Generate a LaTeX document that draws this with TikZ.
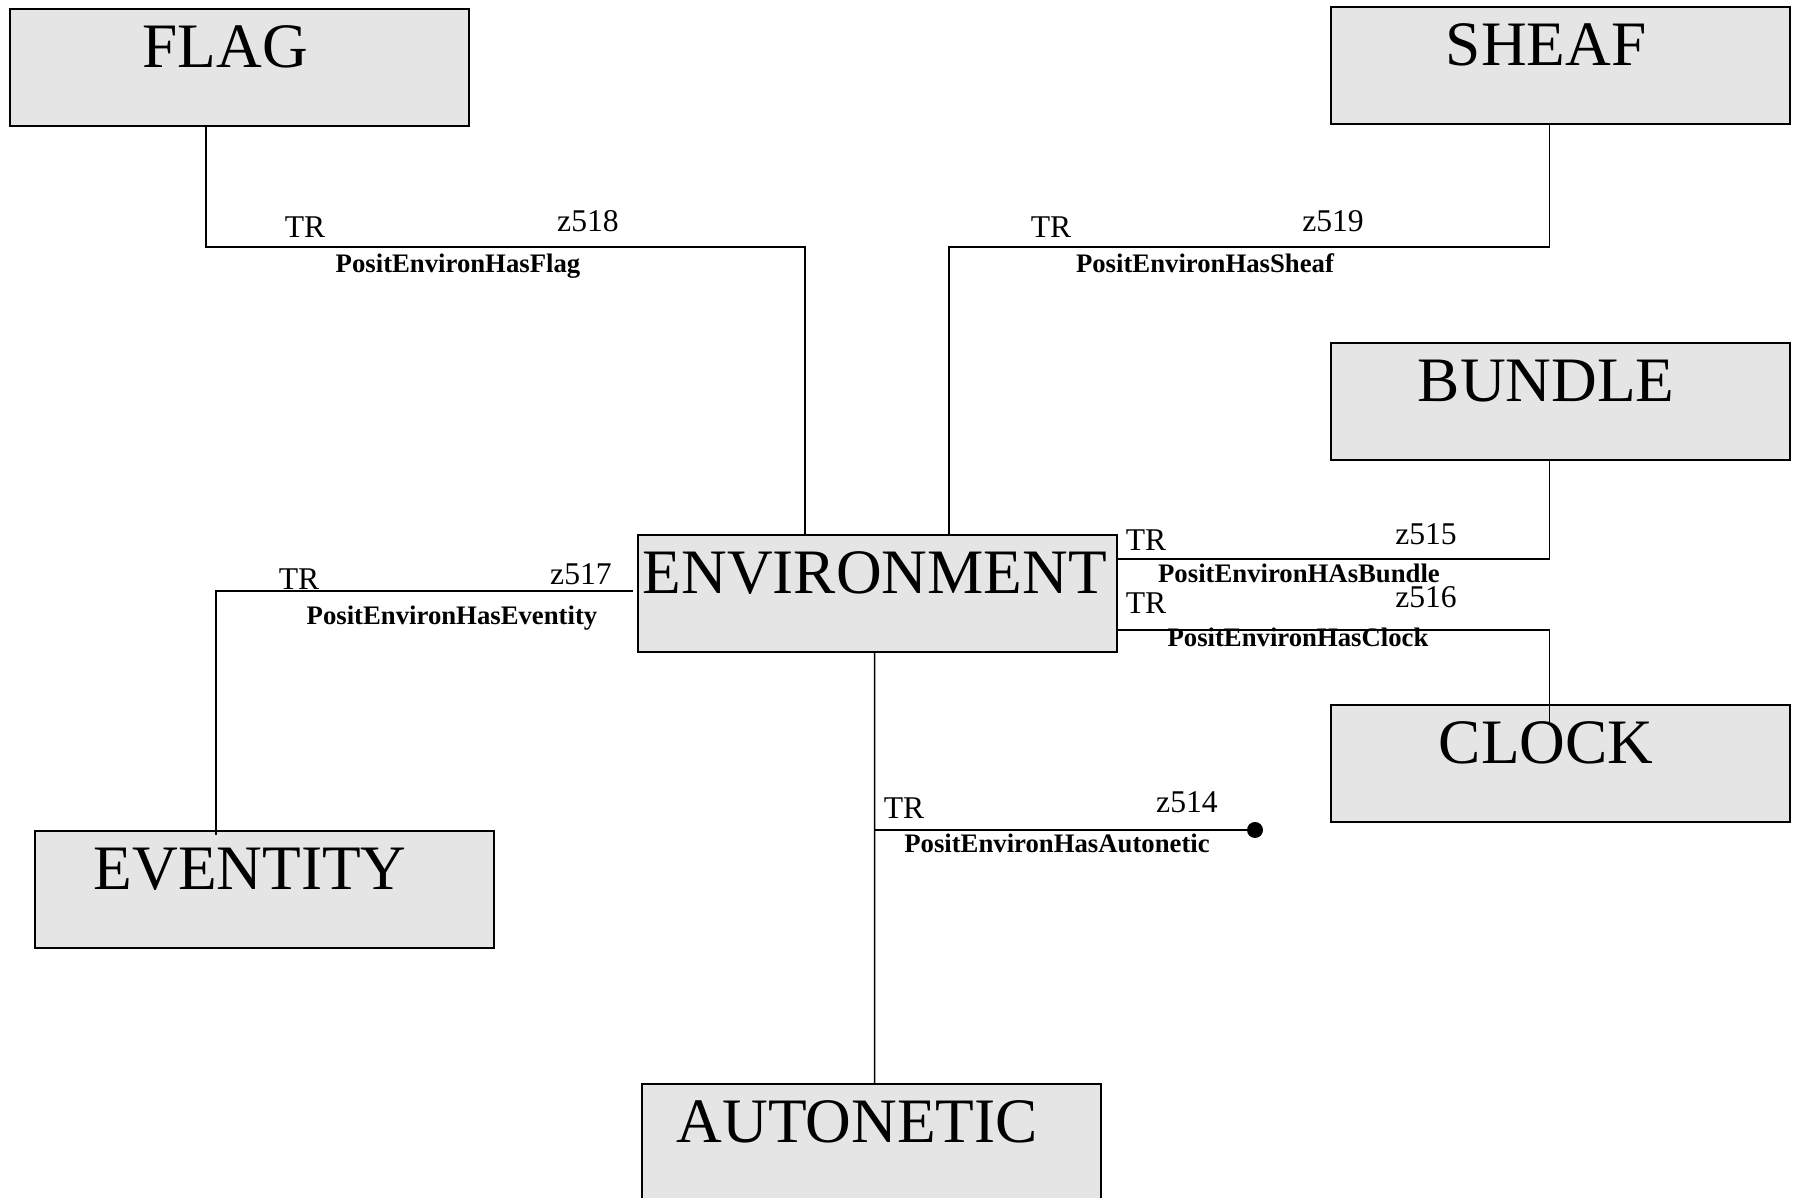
\documentclass[tikz,border=0pt]{standalone}
\usepackage{fontspec}
\setmainfont{Liberation Serif}
\usepackage{tikz}
\usetikzlibrary{positioning}

\begin{document}
\begin{tikzpicture}[
    x=0.01cm, y=-0.01cm,
    entity/.style={rectangle, draw, line width=0.6pt, fill=gray!20, anchor=north west, inner sep=0pt,
        minimum width=4.59cm, text height=0.58cm, text depth=0.59cm, font=\fontsize{18}{18}\selectfont},
    box/.style={entity, execute at end node={\hspace*{0.29cm}}},
    link/.style={line width=0.45pt},
    tag/.style={anchor=base, inner sep=0pt, font=\fontsize{9}{9}\selectfont},
    rel/.style={anchor=base, inner sep=0pt, font=\bfseries\fontsize{7.6}{7.6}\selectfont}
]
    \useasboundingbox (0,0) rectangle (1793,1198);

    % Entity boxes
    \node[box] (flag) at (9,8) {FLAG};
    \node[box] (sheaf) at (1330,6) {SHEAF};
    \node[box] (bundle) at (1330,342) {BUNDLE};
    \node[box] (clock) at (1330,704) {CLOCK};
    \node[box] (eventity) at (34,830) {EVENTITY};
    \node[box] (autonetic) at (641,1083) {AUTONETIC};
    \node[entity, minimum width=4.79cm, execute at end node={\hspace*{0.06cm}}] (env) at (637,534) {ENVIRONMENT};

    % Relationships
    \draw[link] ([xshift=-0.335cm]flag.south) -- ++(0,120) -| ([xshift=-0.725cm]env.north);
    \draw[link] ([xshift=-0.11cm]sheaf.south) -- ++(0,122) -| ([xshift=0.715cm]env.north);
    \draw[link] ([xshift=-0.11cm]bundle.south) |- ([yshift=0.345cm]env.east);
    \draw[link] ([yshift=-0.365cm]env.east) -| ([xshift=-0.11cm, yshift=-0.19cm]clock.north);
    \draw[link] ([xshift=-0.04cm, yshift=0.025cm]env.west) -| ([xshift=-0.485cm, yshift=-0.05cm]eventity.north);
    \draw[link] ([xshift=-0.03cm]env.south) -- ([xshift=0.03cm]autonetic.north);
    \coordinate (autoend) at (1255,830);
    \draw[link] ([xshift=-0.03cm]autoend -| env.south) -- (autoend);
    \fill (autoend) circle (0.08cm);

    % Labels
    \node[tag] (trflag) at (305,238) {TR};
    \node[tag] (zflag) at (588,232) {z518};
    \node[rel] (relflag) at (458,273) {PositEnvironHasFlag};

    \node[tag] (trsheaf) at (1051,238) {TR};
    \node[tag] (zsheaf) at (1333,232) {z519};
    \node[rel] (relsheaf) at (1205,273) {PositEnvironHasSheaf};

    \node[tag] (trbundle) at (1146,551) {TR};
    \node[tag] (zbundle) at (1426,545) {z515};
    \node[rel] (relbundle) at (1299,583) {PositEnvironHAsBundle};

    \node[tag] (trclock) at (1146,614) {TR};
    \node[tag] (zclock) at (1426,608) {z516};
    \node[rel] (relclock) at (1298,647) {PositEnvironHasClock};

    \node[tag] (trevent) at (299,590) {TR};
    \node[tag] (zevent) at (581,585) {z517};
    \node[rel] (relevent) at (452,625) {PositEnvironHasEventity};

    \node[tag] (trauto) at (904,819) {TR};
    \node[tag] (zauto) at (1187,813) {z514};
    \node[rel] (relauto) at (1057,853) {PositEnvironHasAutonetic};
\end{tikzpicture}
\end{document}
